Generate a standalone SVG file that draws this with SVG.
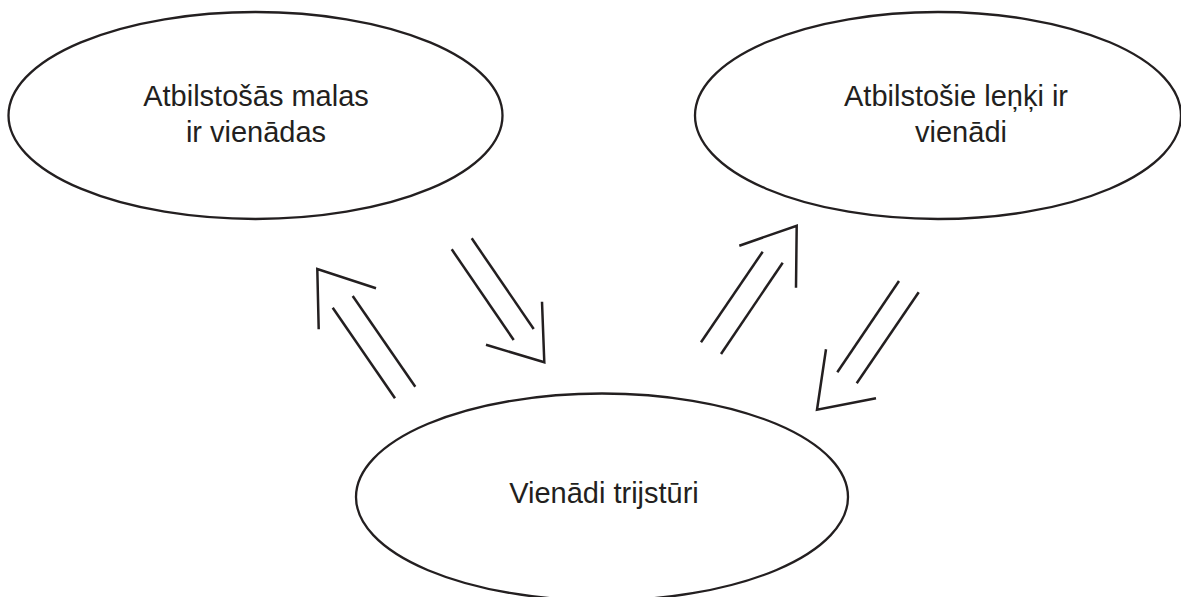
<svg xmlns="http://www.w3.org/2000/svg" width="1181" height="597" viewBox="0 0 1181 597">
<style>
.node ellipse{fill:#fff;stroke:#231f20;stroke-width:2.3}
.node text{font-family:"Liberation Sans",Arial,sans-serif;font-size:29px;fill:#231f20;text-anchor:middle}
#connectors line,#connectors polyline{fill:none;stroke:#231f20;stroke-width:2.5}
</style>
<rect width="1181" height="597" fill="#fff"/>
<g id="node-sides" class="node">
<ellipse cx="255.5" cy="115.5" rx="247" ry="103.5"/>
<text x="256" y="106">Atbilstošās malas</text>
<text x="256" y="142">ir vienādas</text>
</g>
<g id="node-angles" class="node">
<ellipse cx="938" cy="115.5" rx="243" ry="103.5"/>
<text x="956" y="106">Atbilstošie leņķi ir</text>
<text x="961" y="142">vienādi</text>
</g>
<g id="node-triangles" class="node">
<ellipse cx="602" cy="497" rx="246" ry="103.5"/>
<text x="604" y="503">Vienādi trijstūri</text>
</g>
<g id="connectors">
<g id="arrow-tri-to-sides">
<line x1="395" y1="398.3" x2="332.7" y2="307.7"/>
<line x1="415.3" y1="386.7" x2="352.7" y2="296"/>
<polyline points="376,288.3 317.3,269 318.7,329.3"/>
</g>
<g id="arrow-sides-to-tri">
<line x1="451.7" y1="249.3" x2="513.7" y2="340"/>
<line x1="471.7" y1="238.3" x2="533.7" y2="329"/>
<polyline points="542,301.7 544.3,362.3 486,344.7"/>
</g>
<g id="arrow-tri-to-angles">
<line x1="701" y1="342.3" x2="762.7" y2="251.7"/>
<line x1="721" y1="354" x2="782.7" y2="262.7"/>
<polyline points="739.3,245.7 796.7,225.7 796,287.7"/>
</g>
<g id="arrow-angles-to-tri">
<line x1="899" y1="281" x2="837.3" y2="372.3"/>
<line x1="918.7" y1="292.3" x2="856.7" y2="383.3"/>
<polyline points="826,349.3 817,409.7 876,398.3"/>
</g>
</g>
</svg>
